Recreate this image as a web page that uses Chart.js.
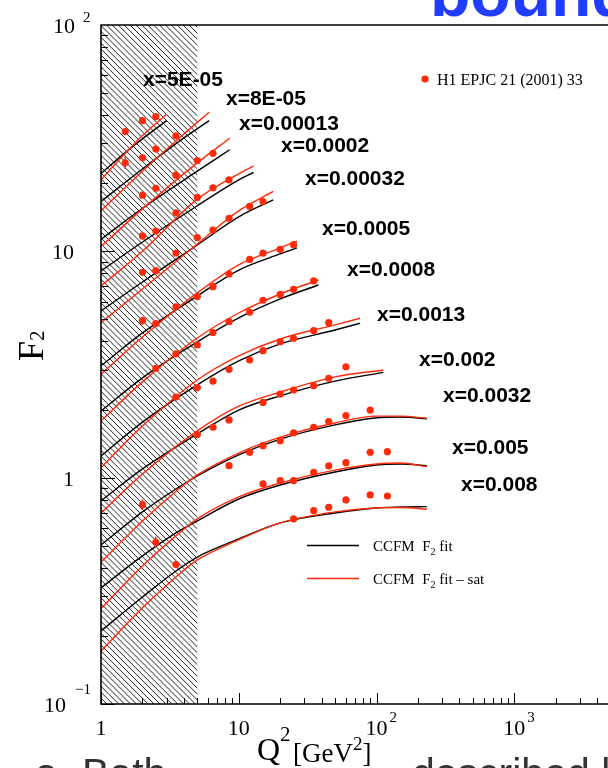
<!DOCTYPE html>
<html>
<head>
<meta charset="utf-8">
<script src="https://cdn.jsdelivr.net/npm/chart.js@4.4.1/dist/chart.umd.min.js"></script>
<style>
  html, body { margin: 0; padding: 0; background: #fff; overflow: hidden; }
  #wrap { width: 608px; height: 768px; overflow: hidden; position: relative; }
  canvas { display: block; }
</style>
</head>
<body>
<div id="wrap"><canvas id="f2chart" width="660" height="768"></canvas></div>
<script>
// x bins, one curve pair and one set of H1 points each
const binLabels = ['x=5E-05', 'x=8E-05', 'x=0.00013', 'x=0.0002', 'x=0.00032', 'x=0.0005',
                   'x=0.0008', 'x=0.0013', 'x=0.002', 'x=0.0032', 'x=0.005', 'x=0.008'];

// Q^2 where the fit curves are sampled
const curveQ2 = [
  [1, 1.5, 2, 3],
  [1, 2, 4, 6.1],
  [1, 2, 5, 8.6],
  [1, 2, 5, 10, 12.8],
  [1, 2, 5, 10, 17.8],
  [1, 2, 5, 10, 20, 26.5],
  [1, 2, 5, 10, 20, 37.9],
  [1, 2, 5, 10, 20, 50, 76],
  [1, 2, 5, 10, 20, 50, 112],
  [1, 2, 3.5, 5, 10, 20, 50, 100, 150, 232],
  [1, 2, 3.5, 5, 10, 20, 50, 100, 150, 232],
  [1, 2, 3.5, 5, 10, 20, 50, 100, 150, 232]
];

// CCFM F2 fit (black)
const fitF2 = [
  [22.1, 27.3, 31.4, 37.8],
  [16.6, 23.1, 31.7, 37.8],
  [11.3, 15.5, 22.6, 28.1],
  [8.19, 11.0, 15.9, 20.7, 22.3],
  [5.45, 7.32, 10.67, 14.2, 16.9],
  [3.12, 4.36, 6.35, 8.27, 9.74, 10.35],
  [1.97, 2.76, 3.98, 5.08, 6.16, 7.10],
  [1.247, 1.76, 2.57, 3.28, 3.90, 4.49, 4.81],
  [0.789, 1.093, 1.56, 1.99, 2.30, 2.67, 2.92],
  [0.504, 0.706, 0.891, 1.017, 1.26, 1.48, 1.71, 1.84, 1.855, 1.82],
  [0.326, 0.451, 0.570, 0.644, 0.805, 0.928, 1.06, 1.138, 1.15, 1.13],
  [0.210, 0.297, 0.387, 0.446, 0.536, 0.631, 0.698, 0.735, 0.742, 0.745]
];

// CCFM F2 fit - sat (red)
const satF2 = [
  [20.7, 27.1, 32.5, 40.3],
  [15.1, 22.6, 33.0, 41.2],
  [10.5, 15.4, 24.6, 31.6],
  [7.03, 10.0, 17.0, 22.0, 23.8],
  [4.84, 6.82, 10.78, 15.1, 18.4],
  [2.86, 4.18, 6.55, 8.71, 10.35, 11.1],
  [1.78, 2.65, 4.14, 5.34, 6.48, 7.47],
  [1.107, 1.69, 2.70, 3.45, 4.10, 4.73, 5.06],
  [0.698, 1.038, 1.61, 2.07, 2.39, 2.79, 2.99],
  [0.424, 0.644, 0.869, 1.028, 1.285, 1.51, 1.745, 1.87, 1.87, 1.83],
  [0.264, 0.407, 0.553, 0.657, 0.822, 0.947, 1.08, 1.15, 1.161, 1.12],
  [0.1715, 0.266, 0.364, 0.433, 0.531, 0.631, 0.706, 0.735, 0.738, 0.725]
];

// H1 EPJC 21 (2001) 33 points
const dataQ2 = [
  [1.5, 2, 2.5],
  [1.5, 2, 2.5, 3.5],
  [2, 2.5, 3.5, 5, 6.5],
  [2, 2.5, 3.5, 5, 6.5, 8.5],
  [2, 2.5, 3.5, 5, 6.5, 8.5, 12, 15],
  [2, 2.5, 3.5, 5, 6.5, 8.5, 12, 15, 20, 25],
  [2.5, 3.5, 5, 6.5, 8.5, 12, 15, 20, 25, 35],
  [3.5, 5, 6.5, 8.5, 12, 15, 20, 25, 35, 45],
  [5, 6.5, 8.5, 15, 20, 25, 35, 45, 60],
  [2, 8.5, 12, 15, 20, 25, 35, 45, 60, 90],
  [2.5, 15, 20, 25, 35, 45, 60, 90, 120],
  [3.5, 25, 35, 45, 60, 90, 120]
];
const dataF2 = [
  [33.8, 37.8, 39.4],
  [24.6, 25.9, 28.3, 32.4],
  [17.7, 19.0, 21.7, 25.2, 27.1],
  [11.7, 12.3, 14.8, 17.3, 19.1, 20.7],
  [8.08, 8.21, 9.83, 11.5, 12.4, 14.0, 15.8, 16.6],
  [4.94, 4.80, 5.69, 6.31, 6.98, 7.94, 9.21, 9.81, 10.2, 10.7],
  [3.04, 3.52, 3.86, 4.38, 4.89, 5.38, 6.08, 6.45, 6.80, 7.40],
  [2.27, 2.50, 2.67, 3.01, 3.31, 3.64, 3.99, 4.13, 4.46, 4.84],
  [1.55, 1.67, 1.80, 2.15, 2.34, 2.44, 2.55, 2.75, 3.09],
  [0.760, 1.13, 1.295, 1.385, 1.457, 1.576, 1.67, 1.77, 1.88, 1.99],
  [0.518, 0.938, 0.970, 0.970, 1.056, 1.127, 1.165, 1.295, 1.303],
  [0.413, 0.657, 0.715, 0.740, 0.797, 0.839, 0.830]
];

// the few visible error bars
const errQ2 = [1.5, 2, 2, 2.5];
const errLo = [23.1, 4.74, 0.72, 0.49];
const errHi = [26.2, 5.14, 0.80, 0.55];

// shaded low Q^2 band
const hatchQ2 = [1, 5];

const RED = '#ff2a0a';
const serif = '"Liberation Serif", "Times New Roman", serif';
const sans = '"Liberation Sans", Arial, sans-serif';

// where the bin names sit (left, baseline)
const labelPos = [[143, 86], [226, 105], [239, 130], [281, 152], [305, 185], [322, 235],
                  [347, 276], [377, 321], [419, 366], [443, 402], [452, 454], [461, 491]];

const datasets = [];
dataQ2.forEach((qs, i) => {
  datasets.push({
    data: qs.map((q, j) => ({ x: q, y: dataF2[i][j] })),
    pointRadius: 3.6, pointBackgroundColor: RED, pointBorderWidth: 0,
    showLine: false, order: 0
  });
});
curveQ2.forEach((qs, i) => {
  datasets.push({
    data: qs.map((q, j) => ({ x: q, y: satF2[i][j] })),
    borderColor: RED, borderWidth: 1.4, pointRadius: 0,
    showLine: true, cubicInterpolationMode: 'monotone', order: 1
  });
  datasets.push({
    data: qs.map((q, j) => ({ x: q, y: fitF2[i][j] })),
    borderColor: '#000', borderWidth: 1.4, pointRadius: 0,
    showLine: true, cubicInterpolationMode: 'monotone', order: 2
  });
});

// draw a run of text pieces left to right: [text, font, dy]
function rich(ctx, parts, x, y) {
  parts.forEach(([t, font, dy]) => {
    ctx.font = font;
    ctx.fillText(t, x, y + (dy || 0));
    x += ctx.measureText(t).width;
  });
}

const hatch = {
  id: 'hatch',
  beforeDatasetsDraw(chart) {
    const { ctx, chartArea: a, scales: { x } } = chart;
    const x0 = x.getPixelForValue(hatchQ2[0]);
    const x1 = x.getPixelForValue(hatchQ2[1]);
    const h = a.bottom - a.top;
    ctx.save();
    ctx.beginPath();
    ctx.rect(x0, a.top, x1 - x0, h);
    ctx.clip();
    ctx.strokeStyle = '#222';
    ctx.lineWidth = 1;
    ctx.beginPath();
    for (let s = x0 - h; s < x1 + 10; s += 5.9) {
      ctx.moveTo(s, a.top);
      ctx.lineTo(s + h, a.bottom);
    }
    ctx.stroke();
    ctx.restore();
  }
};

const frame = {
  id: 'frame',
  afterDatasetsDraw(chart) {
    const { ctx, chartArea: a, scales: { x, y } } = chart;
    ctx.save();

    // error bars
    ctx.strokeStyle = RED;
    ctx.lineWidth = 1.5;
    errQ2.forEach((q, i) => {
      const px = x.getPixelForValue(q);
      ctx.beginPath();
      ctx.moveTo(px, y.getPixelForValue(errLo[i]));
      ctx.lineTo(px, y.getPixelForValue(errHi[i]));
      ctx.stroke();
    });

    // frame
    ctx.strokeStyle = '#000';
    ctx.lineWidth = 1.6;
    ctx.beginPath();
    ctx.moveTo(a.right, a.top);
    ctx.lineTo(a.left, a.top);
    ctx.lineTo(a.left, a.bottom);
    ctx.lineTo(a.right, a.bottom);
    ctx.stroke();

    // ticks, pointing inwards
    ctx.lineWidth = 1;
    ctx.beginPath();
    for (let d = 0; d < 4; d++) {
      for (let m = 1; m <= 9; m++) {
        const px = Math.round(x.getPixelForValue(m * Math.pow(10, d))) + 0.5;
        const len = m === 1 ? 11 : 6;
        ctx.moveTo(px, a.bottom);
        ctx.lineTo(px, a.bottom - len);
      }
    }
    for (let d = -1; d < 2; d++) {
      for (let m = 1; m <= 9; m++) {
        const py = Math.round(y.getPixelForValue(m * Math.pow(10, d))) + 0.5;
        const len = m === 1 ? 14 : 7;
        ctx.moveTo(a.left, py);
        ctx.lineTo(a.left + len, py);
      }
    }
    ctx.stroke();

    // tick labels
    ctx.fillStyle = '#000';
    const big = '22px ' + serif, small = '15px ' + serif;
    ctx.font = big;
    ctx.textAlign = 'left';
    const yl = (v, txt, exp) => {
      const py = y.getPixelForValue(v);
      ctx.font = big;
      const w = ctx.measureText(txt).width;
      const right = exp ? 75 : 74;
      rich(ctx, [[txt, big, 0]], right - w - (exp === '\u22121' ? 9 : 0), py + 8);
      if (exp) {
        ctx.font = small;
        ctx.fillText(exp, right + (exp === '\u22121' ? 0 : 8), py - (exp === '\u22121' ? 10 : 3));
      }
    };
    yl(100, '10', '2');
    yl(10, '10');
    yl(1, '1');
    yl(0.1, '10', '\u22121');

    const xl = (v, txt, exp) => {
      const px = x.getPixelForValue(v);
      ctx.font = big;
      const w = ctx.measureText(txt).width;
      ctx.fillText(txt, px - w / 2, 735);
      if (exp) {
        ctx.font = small;
        ctx.fillText(exp, px + w / 2 + 2, 722);
      }
    };
    xl(1, '1');
    xl(10, '10');
    xl(100, '10', '2');
    xl(1000, '10', '3');

    // axis titles
    ctx.save();
    ctx.translate(43, 361);
    ctx.rotate(-Math.PI / 2);
    rich(ctx, [['F', '36px ' + serif, 0], ['2', '21px ' + serif, 1]], 0, 0);
    ctx.restore();
    rich(ctx, [['Q', '32px ' + serif, 0], ['2', '21px ' + serif, -19]], 257, 760);
    rich(ctx, [['[GeV', '27px ' + serif, 0], ['2', '19px ' + serif, -12], [']', '27px ' + serif, 0]], 293, 762);

    // bin names
    ctx.font = 'bold 21px ' + sans;
    binLabels.forEach((t, i) => ctx.fillText(t, labelPos[i][0], labelPos[i][1]));

    // legends
    ctx.fillStyle = RED;
    ctx.beginPath();
    ctx.arc(425, 79, 3.6, 0, Math.PI * 2);
    ctx.fill();
    ctx.fillStyle = '#000';
    ctx.font = '16px ' + serif;
    ctx.fillText('H1 EPJC 21 (2001) 33', 437, 85);

    ctx.lineWidth = 1.3;
    ctx.strokeStyle = '#000';
    ctx.beginPath(); ctx.moveTo(307, 545.5); ctx.lineTo(359, 545.5); ctx.stroke();
    ctx.strokeStyle = RED;
    ctx.beginPath(); ctx.moveTo(307, 578.5); ctx.lineTo(359, 578.5); ctx.stroke();
    const lf = '15px ' + serif, lsub = '10px ' + serif;
    rich(ctx, [['CCFM  F', lf, 0], ['2', lsub, 4], [' fit', lf, 0]], 373, 551);
    rich(ctx, [['CCFM  F', lf, 0], ['2', lsub, 4], [' fit \u2013 sat', lf, 0]], 373, 584);

    // slide text around the figure
    ctx.fillStyle = '#1f3cff';
    ctx.font = 'bold 66px ' + sans;
    ctx.fillText('bound', 430, 16);
    ctx.fillStyle = '#333';
    ctx.font = '41px ' + sans;
    ctx.fillText('a', 35, 787);
    ctx.fillText('Bath', 82, 787);
    ctx.fillText('described b', 412, 787);

    ctx.restore();
  }
};

new Chart(document.getElementById('f2chart'), {
  type: 'scatter',
  data: { datasets },
  options: {
    responsive: false,
    animation: false,
    layout: { padding: { left: 101, top: 25, right: 8, bottom: 64 } },
    scales: {
      x: { type: 'logarithmic', min: 1, max: 10000, display: false },
      y: { type: 'logarithmic', min: 0.1, max: 100, display: false }
    },
    plugins: { legend: { display: false }, tooltip: { enabled: false } }
  },
  plugins: [hatch, frame]
});
</script>
</body>
</html>
